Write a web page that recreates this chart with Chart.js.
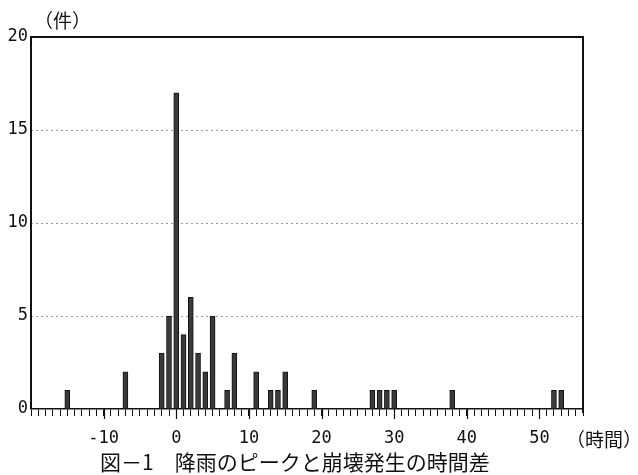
<!DOCTYPE html>
<html>
<head>
<meta charset="utf-8">
<script src="https://cdn.jsdelivr.net/npm/chart.js@4/dist/chart.umd.min.js"></script>
<style>
  html, body { margin: 0; padding: 0; background: #fff; }
  #wrap { width: 638px; height: 475px; }
</style>
</head>
<body>
<div id="wrap"><canvas id="c" width="638" height="475"></canvas></div>
<script>
// hours between rainfall peak and slope failure, and number of cases
const hours = [-15, -7, -2, -1, 0, 1, 2, 3, 4, 5, 7, 8, 11, 13, 14, 15, 19, 27, 28, 29, 30, 38, 52, 53];
const counts = [1, 2, 3, 5, 17, 4, 6, 3, 2, 5, 1, 3, 2, 1, 1, 2, 1, 1, 1, 1, 1, 1, 1, 1];
const yTicks = [0, 5, 10, 15, 20];
const xLabelValues = [-10, 0, 10, 20, 30, 40, 50];

const yLabel = '（件）';
const xLabel = '（時間）';
const caption = '図－1　降雨のピークと崩壊発生の時間差';

const MONO = '"DejaVu Sans Mono", monospace';
const JP = '"Noto Sans CJK JP", sans-serif';

const frame = {
  id: 'frame',
  afterDraw(chart) {
    const {ctx, chartArea: a} = chart;
    const x = chart.scales.x;
    ctx.save();
    ctx.strokeStyle = '#111';
    ctx.lineWidth = 2;
    ctx.beginPath();
    ctx.moveTo(a.left, a.bottom);
    ctx.lineTo(a.left, a.top);
    ctx.lineTo(a.right, a.top);
    ctx.lineTo(a.right, a.bottom + 4);
    ctx.stroke();
    // longer ticks every 10 hours
    ctx.lineWidth = 1.2;
    ctx.beginPath();
    xLabelValues.forEach(v => {
      const px = Math.round(x.getPixelForValue(v)) + 0.5;
      ctx.moveTo(px, a.bottom);
      ctx.lineTo(px, a.bottom + 10);
    });
    ctx.stroke();

    ctx.fillStyle = '#111';
    ctx.textBaseline = 'middle';
    ctx.textAlign = 'left';
    ctx.font = '19px ' + JP;
    ctx.fillText(yLabel, 34, 21);
    ctx.font = '19px ' + JP;
    ctx.fillText(xLabel, 566, 440);
    ctx.font = '21px ' + JP;
    ctx.fillText(caption, 100, 462);
    ctx.restore();
  }
};

new Chart(document.getElementById('c'), {
  type: 'bar',
  data: {
    datasets: [{
      data: hours.map((h, i) => ({x: h, y: counts[i]})),
      backgroundColor: '#3a3a3a',
      borderColor: '#111',
      borderWidth: 1,
      borderSkipped: 'bottom',
      barThickness: 5
    }]
  },
  options: {
    responsive: false,
    animation: false,
    layout: { padding: { top: 37, right: 55, left: 0, bottom: 0 } },
    plugins: { legend: { display: false }, tooltip: { enabled: false } },
    scales: {
      x: {
        type: 'linear',
        min: -20,
        max: 56,
        offset: false,
        afterFit(s) { s.height = 66; },
        grid: {
          offset: false,
          drawOnChartArea: false,
          drawTicks: true,
          tickLength: 7,
          tickColor: '#111',
          tickWidth: 1
        },
        border: { display: true, color: '#111', width: 1.5 },
        ticks: {
          stepSize: 1,
          autoSkip: false,
          maxRotation: 0,
          padding: 12,
          color: '#111',
          font: { family: MONO, size: 17 },
          callback: v => xLabelValues.includes(v) ? String(v) : ''
        }
      },
      y: {
        min: 0,
        max: 20,
        afterFit(s) { s.width = 31; },
        afterBuildTicks(s) { s.ticks = yTicks.map(v => ({value: v})); },
        grid: {
          drawTicks: false,
          color: c => (c.tick && (c.tick.value === 0 || c.tick.value === 20)) ? 'rgba(0,0,0,0)' : '#9a9a9a',
          lineWidth: 1
        },
        border: { display: false, dash: [2, 3] },
        ticks: {
          padding: 3,
          color: '#111',
          font: { family: MONO, size: 17 }
        }
      }
    }
  },
  plugins: [frame]
});
</script>
</body>
</html>
